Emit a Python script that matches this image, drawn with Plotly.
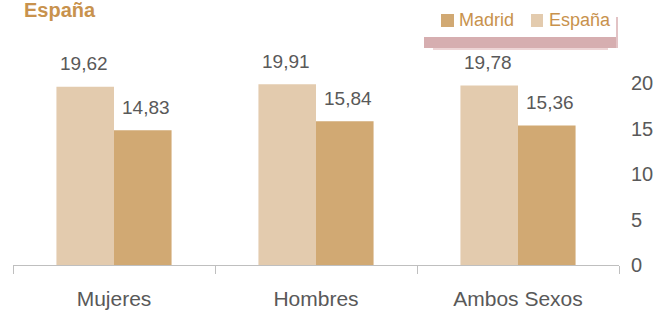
import plotly.graph_objects as go

categories = ["Mujeres", "Hombres", "Ambos Sexos"]
espana = [19.62, 19.91, 19.78]
madrid = [14.83, 15.84, 15.36]
y_ticks = [0, 5, 10, 15, 20]
legend_names = ["Madrid", "España"]

W, H = 663, 312
L, R, T, B = 13, 44, 38, 47
pw, ph = W - L - R, H - T - B

def px(x):
    return (x - L) / pw

def py(y):
    return (H - B - y) / ph

fmt = lambda v: f"{v:.2f}".replace(".", ",")

C_ESP = "#E3CBAE"
C_MAD = "#D1A973"
GOLD = "#C8924D"
GREY = "#595959"
FONT = "Liberation Sans, Arial, sans-serif"

fig = go.Figure()
fig.add_trace(go.Bar(x=categories, y=espana, name="España", marker_color=C_ESP,
                     marker_line_width=0, showlegend=False))
fig.add_trace(go.Bar(x=categories, y=madrid, name="Madrid", marker_color=C_MAD,
                     marker_line_width=0, showlegend=False))

annotations = []
for c, v in zip(categories, espana):
    annotations.append(dict(x=c, y=v, text=fmt(v), showarrow=False, xshift=-30, yshift=23,
                            font=dict(size=19, color=GREY, family=FONT)))
for c, v in zip(categories, madrid):
    annotations.append(dict(x=c, y=v, text=fmt(v), showarrow=False, xshift=32, yshift=23,
                            font=dict(size=19, color=GREY, family=FONT)))

# title
annotations.append(dict(xref="paper", yref="paper", x=px(22), y=py(10), xanchor="left",
                        yanchor="middle", text="<b>España</b>", showarrow=False,
                        font=dict(size=20, color=GOLD, family=FONT)))

shapes = [
    dict(type="rect", xref="paper", yref="paper", x0=px(424), x1=px(617), y0=py(48), y1=py(37),
         fillcolor="#D6AEB0", line_width=0, layer="below"),
    dict(type="rect", xref="paper", yref="paper", x0=px(433), x1=px(608), y0=py(50), y1=py(48),
         fillcolor="#EDD5D6", line_width=0, layer="below"),
    dict(type="rect", xref="paper", yref="paper", x0=px(616), x1=px(618), y0=py(48), y1=py(17),
         fillcolor="#E2C3C5", line_width=0, layer="below"),
]

# manual legend: squares + labels
legend_sq = [(441, 454, C_MAD), (531, 543, C_ESP)]
legend_tx = [457, 547]
for (x0, x1, col), tx, name in zip(legend_sq, legend_tx, legend_names):
    shapes.append(dict(type="rect", xref="paper", yref="paper", x0=px(x0), x1=px(x1),
                       y0=py(27), y1=py(14), fillcolor=col, line_width=0))
    annotations.append(dict(xref="paper", yref="paper", x=px(tx), y=py(20), xanchor="left",
                            yanchor="middle", text=name, showarrow=False,
                            font=dict(size=18, color=GOLD, family=FONT)))

fig.update_layout(
    width=W, height=H,
    margin=dict(l=L, r=R, t=T, b=B, autoexpand=False),
    paper_bgcolor="white", plot_bgcolor="white",
    barmode="group", bargap=0.43, bargroupgap=0,
    font=dict(family=FONT, color=GREY, size=19),
    showlegend=False,
    xaxis=dict(showline=True, linecolor="#BFBFBF", linewidth=1,
               ticks="outside", tickson="boundaries", ticklen=8, tickcolor="#BFBFBF",
               ticklabelstandoff=15, showgrid=False,
               tickfont=dict(size=21, color=GREY, family=FONT)),
    yaxis=dict(side="right", range=[0, 25], tickvals=y_ticks, showgrid=False,
               zeroline=False, showline=False, ticks="", ticklabelstandoff=11,
               tickfont=dict(size=20, color=GREY, family=FONT)),
    annotations=annotations,
    shapes=shapes,
)

fig.write_html("out.html", config={"displayModeBar": False},
               post_script="document.body.style.margin='0';document.body.style.overflow='hidden';")
